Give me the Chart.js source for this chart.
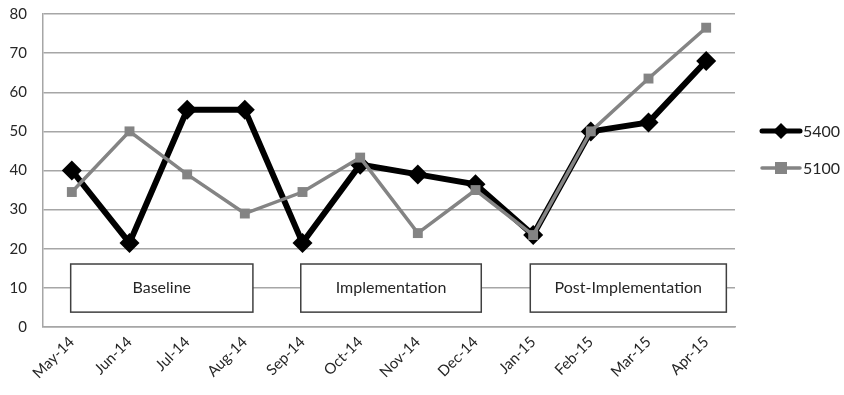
<!DOCTYPE html>
<html>
<head>
<meta charset="utf-8">
<script src="https://cdn.jsdelivr.net/npm/chart.js@4/dist/chart.umd.min.js"></script>
<style>
  html, body { margin: 0; padding: 0; background: #ffffff; }
  #wrap { width: 844px; height: 395px; }
</style>
</head>
<body>
<div id="wrap"><canvas id="c" width="844" height="395"></canvas></div>
<script>
// Monthly values per unit
const months = ['May-14', 'Jun-14', 'Jul-14', 'Aug-14', 'Sep-14', 'Oct-14',
                'Nov-14', 'Dec-14', 'Jan-15', 'Feb-15', 'Mar-15', 'Apr-15'];
const unit5400 = [40, 21.5, 55.5, 55.5, 21.5, 41.5, 39, 36.5, 23.5, 50, 52.3, 68];
const unit5100 = [34.5, 50, 39, 29, 34.5, 43.3, 24, 35, 23.5, 50, 63.5, 76.5];
const seriesNames = ['5400', '5100'];
const phaseNames = ['Baseline', 'Implementation', 'Post-Implementation'];

const FONT = 'Lato, "Open Sans", sans-serif';
const TEXT = '#262626';

// Phase boxes: start/end as category positions
const phaseBoxes = [
  { name: phaseNames[0], from: -0.02, to: 3.14 },
  { name: phaseNames[1], from: 3.97, to: 7.1 },
  { name: phaseNames[2], from: 7.95, to: 11.35 }
];

const phasePlugin = {
  id: 'phases',
  beforeDatasetsDraw(chart) {
    const { ctx } = chart;
    const xs = chart.scales.x, ys = chart.scales.y;
    const yTop = ys.getPixelForValue(16.1);
    const yBot = ys.getPixelForValue(3.8);
    ctx.save();
    phaseBoxes.forEach(b => {
      const x1 = xs.getPixelForValue(b.from);
      const x2 = xs.getPixelForValue(b.to);
      ctx.fillStyle = '#ffffff';
      ctx.fillRect(x1, yTop, x2 - x1, yBot - yTop);
      ctx.strokeStyle = '#404040';
      ctx.lineWidth = 1.5;
      ctx.strokeRect(x1, yTop, x2 - x1, yBot - yTop);
      ctx.fillStyle = TEXT;
      ctx.font = '16px ' + FONT;
      ctx.textAlign = 'center';
      ctx.textBaseline = 'middle';
      ctx.fillText(b.name, (x1 + x2) / 2, (yTop + yBot) / 2);
    });
    ctx.restore();
  }
};

const legendPlugin = {
  id: 'sideLegend',
  afterDraw(chart) {
    const { ctx, chartArea } = chart;
    const x0 = chartArea.right + 27;
    const entries = [
      { name: seriesNames[0], color: '#000000', width: 5, style: 'diamond', y: 131 },
      { name: seriesNames[1], color: '#848484', width: 3.5, style: 'square', y: 168 }
    ];
    ctx.save();
    entries.forEach(e => {
      ctx.strokeStyle = e.color;
      ctx.lineWidth = e.width;
      ctx.lineCap = 'round';
      ctx.beginPath();
      ctx.moveTo(x0, e.y);
      ctx.lineTo(x0 + 38, e.y);
      ctx.stroke();
      ctx.fillStyle = e.color;
      const cx = x0 + 19;
      if (e.style === 'diamond') {
        ctx.beginPath();
        ctx.moveTo(cx, e.y - 8);
        ctx.lineTo(cx + 8, e.y);
        ctx.lineTo(cx, e.y + 8);
        ctx.lineTo(cx - 8, e.y);
        ctx.closePath();
        ctx.fill();
      } else {
        ctx.fillRect(cx - 6, e.y - 6, 12, 12);
      }
      ctx.fillStyle = TEXT;
      ctx.font = '16px ' + FONT;
      ctx.textAlign = 'left';
      ctx.textBaseline = 'middle';
      ctx.fillText(e.name, x0 + 41, e.y + 1);
    });
    ctx.restore();
  }
};

new Chart(document.getElementById('c'), {
  type: 'line',
  data: {
    labels: months,
    datasets: [
      {
        label: seriesNames[0],
        data: unit5400,
        borderColor: '#000000',
        backgroundColor: '#000000',
        borderWidth: 6,
        pointStyle: 'rectRot',
        pointRadius: 10,
        pointBorderWidth: 0,
        tension: 0,
        order: 1
      },
      {
        label: seriesNames[1],
        data: unit5100,
        borderColor: '#848484',
        backgroundColor: '#848484',
        borderWidth: 3.5,
        pointStyle: 'rect',
        pointRadius: 7,
        pointBorderWidth: 0,
        tension: 0,
        order: 0
      }
    ]
  },
  options: {
    responsive: false,
    animation: false,
    layout: { padding: { top: 14, right: 109, left: 0, bottom: 0 } },
    plugins: {
      legend: { display: false },
      tooltip: { enabled: false }
    },
    scales: {
      x: {
        offset: true,
        grid: { display: false, drawTicks: false },
        border: { display: true, color: '#a6a6a6', width: 1.5 },
        ticks: {
          color: TEXT,
          font: { family: FONT, size: 15 },
          maxRotation: 45,
          minRotation: 45,
          padding: 6,
          autoSkip: false
        },
        afterFit(scale) {
          scale.height = 68;
          scale.paddingLeft = 0;
          scale.paddingRight = 0;
        }
      },
      y: {
        min: 0,
        max: 80,
        grid: { color: '#a6a6a6', lineWidth: 1.5, drawTicks: false },
        border: { display: true, color: '#a6a6a6', width: 1.5 },
        ticks: {
          stepSize: 10,
          color: TEXT,
          font: { family: FONT, size: 15 },
          padding: 16
        },
        afterFit(scale) {
          scale.width = 43;
          scale.paddingTop = 0;
          scale.paddingBottom = 0;
        }
      }
    }
  },
  plugins: [phasePlugin, legendPlugin]
});
</script>
</body>
</html>
